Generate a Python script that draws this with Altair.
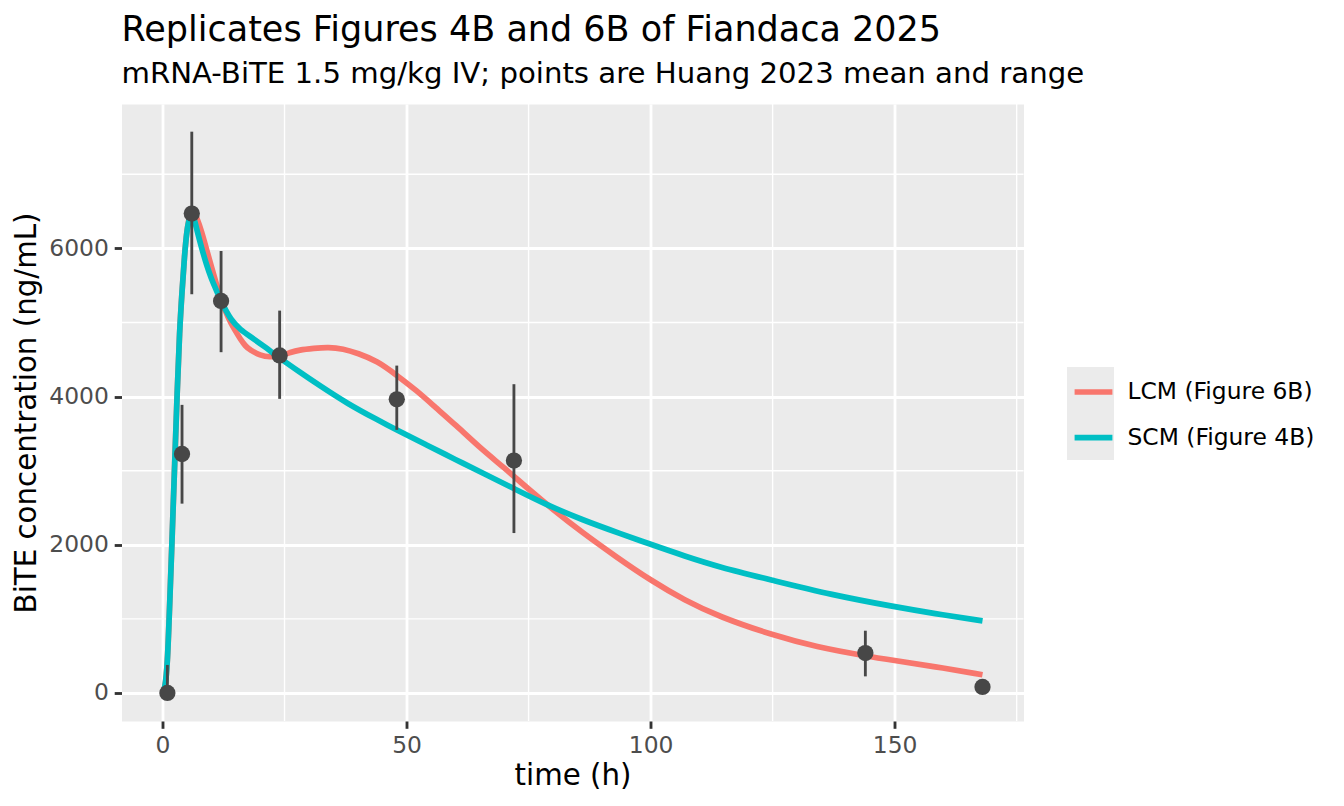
import altair as alt
import pandas as pd

# ---- model curves ----
lcm_t = [0, 0.5, 1, 1.5, 2, 2.5, 3, 3.5, 4, 4.5, 5, 5.5, 6, 6.5, 7, 8, 9, 10, 11, 12,
         13, 14, 15, 16, 17, 18, 20, 22, 24, 26, 28, 31, 34, 37, 40, 44, 48, 52, 56,
         60, 65, 70, 75, 80, 86, 93, 100, 107, 114, 125, 134, 144, 150, 158, 168]
lcm_c = [0, 60, 350, 1250, 2150, 3100, 4050, 4900, 5420, 5900, 6250, 6430, 6490, 6480,
         6420, 6230, 5990, 5760, 5530, 5300, 5135, 4990, 4880, 4770, 4680, 4625, 4555,
         4530, 4550, 4590, 4630, 4652, 4668, 4645, 4585, 4480, 4287, 4085, 3850, 3620,
         3310, 3040, 2750, 2475, 2165, 1835, 1520, 1250, 1030, 780, 620, 500, 438, 358, 246]

scm_t = [0, 0.5, 1, 1.5, 2, 2.5, 3, 3.5, 4, 4.5, 5, 5.5, 6, 6.5, 7, 8, 9, 10, 11, 12,
         14, 16, 18, 21, 24, 28, 32, 38, 44, 48, 54, 60, 66, 72, 78, 86, 94, 100, 107,
         114, 125, 137, 150, 158, 168]
scm_c = [0, 60, 350, 1250, 2150, 3100, 4050, 4900, 5420, 5900, 6250, 6410, 6457, 6400,
         6260, 6010, 5780, 5590, 5440, 5285, 5030, 4900, 4810, 4670, 4520, 4336, 4157,
         3900, 3687, 3550, 3349, 3152, 2953, 2760, 2560, 2335, 2146, 2006, 1847, 1700,
         1521, 1325, 1163, 1073, 973]

series_names = ["LCM (Figure 6B)", "SCM (Figure 4B)"]
series_colors = ["#F8766D", "#00BFC4"]

# ---- observations: Huang 2023 mean and range ----
obs_t = [1, 4, 6, 12, 24, 48, 72, 144, 168]
obs_mean = [0, 3225, 6470, 5291, 4555, 3963, 3137, 539, 81]
obs_min = [0, 2555, 5381, 4599, 3969, 3551, 2158, 224, 60]
obs_max = [378, 3888, 7575, 5965, 5160, 4418, 4167, 840, 100]

x_ticks = [0, 50, 100, 150]
y_ticks = [0, 2000, 4000, 6000]
x_minor = [25, 75, 125, 175]
y_minor = [1000, 3000, 5000, 7000]

curves = pd.DataFrame({
    "t": lcm_t + scm_t,
    "y": lcm_c + scm_c,
    "model": [series_names[0]] * len(lcm_t) + [series_names[1]] * len(scm_t),
})
obs = pd.DataFrame({"t": obs_t, "y": obs_mean, "lo": obs_min, "hi": obs_max})

W, H = 902, 617
xs = alt.Scale(domain=[-8.4, 176.4], nice=False, zero=False)
ys = alt.Scale(domain=[-378.5, 7948.5], nice=False, zero=False)

xaxis = alt.Axis(values=x_ticks, title="time (h)", format="d",
                 titleX=W / 2, titleY=63.6, titleBaseline="alphabetic", titleAlign="center")
yaxis = alt.Axis(values=y_ticks, title="BiTE concentration (ng/mL)", format="d",
                 titleX=-86.4, titleY=H / 2, titleBaseline="alphabetic",
                 titleAlign="center", titleAngle=270)

X = alt.X("t:Q", scale=xs, axis=xaxis)

grid_x = alt.Chart(pd.DataFrame({"t": x_minor})).mark_rule(
    color="white", strokeWidth=1.42).encode(x=X, y=alt.value(0), y2=alt.value(H))
grid_y = alt.Chart(pd.DataFrame({"y": y_minor})).mark_rule(
    color="white", strokeWidth=1.42).encode(
    y=alt.Y("y:Q", scale=ys, axis=yaxis), x=alt.value(0), x2=alt.value(W))

lines = alt.Chart(curves).mark_line(strokeWidth=5.7, interpolate="basis").encode(
    x=X,
    y=alt.Y("y:Q", scale=ys, axis=yaxis),
    color=alt.Color(
        "model:N",
        scale=alt.Scale(domain=series_names, range=series_colors),
        title=None,
        legend=alt.Legend(orient="none", legendX=950, legendY=266,
                          symbolType="stroke", symbolSize=1430,
                          symbolStrokeWidth=5.7, labelFontSize=23.4,
                          labelColor="black", labelFont="DejaVu Sans",
                          labelOffset=12, labelLimit=400, rowPadding=11.6,
                          padding=0),
    ),
    detail="model:N",
)

bars = alt.Chart(obs).mark_rule(color="#474747", strokeWidth=2.85).encode(
    x=X, y=alt.Y("lo:Q", scale=ys, axis=yaxis), y2="hi:Q")

points = alt.Chart(obs).mark_circle(color="#474747", size=265, opacity=1).encode(
    x=X, y=alt.Y("y:Q", scale=ys, axis=yaxis))

key_bg = alt.Chart(pd.DataFrame({"k": [0]})).mark_rect(color="#EBEBEB").encode(
    x=alt.value(945.5), x2=alt.value(992.5), y=alt.value(263), y2=alt.value(356))

chart = alt.layer(key_bg, grid_x, grid_y, lines, bars, points).properties(
    width=W, height=H,
    autosize=alt.AutoSizeParams(type="none"),
    padding={"left": 113.5, "top": 96, "right": 300, "bottom": 70},
    title=alt.TitleParams(
        text="Replicates Figures 4B and 6B of Fiandaca 2025",
        subtitle="mRNA-BiTE 1.5 mg/kg IV; points are Huang 2023 mean and range",
        anchor="start", frame="group", fontSize=35, subtitleFontSize=29.2,
        font="DejaVu Sans", subtitleFont="DejaVu Sans", fontWeight="normal",
        color="black", subtitleColor="black", offset=13.9, subtitlePadding=12.3),
).configure(
    font="DejaVu Sans", background="white"
).configure_view(
    fill="#EBEBEB", stroke="transparent"
).configure_axis(
    domain=False, grid=True, gridColor="white", gridWidth=2.85,
    labelFont="DejaVu Sans", labelFontSize=23.4, labelColor="#4D4D4D",
    tickColor="#333333", tickWidth=2.85, tickSize=7.3, labelPadding=5.9,
    titleFont="DejaVu Sans", titleFontSize=29.3, titleFontWeight="normal",
    titleColor="black", labelOverlap=False,
)

chart.save("out.html", embed_options={"renderer": "svg", "actions": False})
